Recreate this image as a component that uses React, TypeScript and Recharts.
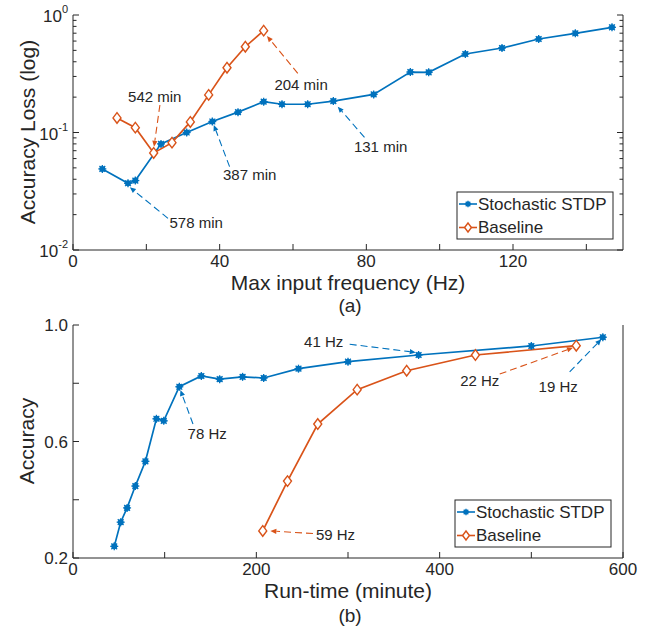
import React from 'react';
import { LineChart, Line, XAxis, YAxis, ReferenceLine, ReferenceDot } from 'recharts';

const FONT = '"Liberation Sans", Arial, Helvetica, sans-serif';
const BLUE = '#0072BD';
const ORANGE = '#D95319';
const AX = '#262626';

// ---- (a) Accuracy loss vs max input frequency ----
const freqStdp = [8, 15, 17, 24, 31, 38, 45, 52, 57, 64, 71, 82, 92, 97, 107, 117, 127, 137, 147];
const lossStdp = [0.049, 0.037, 0.039, 0.080, 0.100, 0.124, 0.149, 0.183, 0.174, 0.174, 0.185, 0.211, 0.327, 0.325, 0.466, 0.524, 0.625, 0.698, 0.786];
const freqBase = [12, 17, 22, 27, 32, 37, 42, 47, 52];
const lossBase = [0.133, 0.110, 0.067, 0.082, 0.123, 0.209, 0.356, 0.537, 0.736];

// ---- (b) Accuracy vs run-time ----
const runStdp = [45, 52, 59, 68, 79, 91, 99, 116, 140, 160, 185, 208, 246, 300, 377, 500, 578];
const accStdp = [0.240, 0.323, 0.372, 0.447, 0.532, 0.678, 0.671, 0.788, 0.825, 0.814, 0.822, 0.818, 0.850, 0.874, 0.897, 0.928, 0.958];
const runBase = [207, 234, 267, 310, 364, 439, 549];
const accBase = [0.293, 0.464, 0.660, 0.778, 0.843, 0.897, 0.929];

// ---- ticks ----
const freqTicks = [0, 20, 40, 60, 80, 100, 120, 140];
const freqLabels = [0, 40, 80, 120];
const lossMajor = [0.01, 0.1, 1];
const lossTicks = [
  0.01, 0.02, 0.03, 0.04, 0.05, 0.06, 0.07, 0.08, 0.09,
  0.1, 0.2, 0.3, 0.4, 0.5, 0.6, 0.7, 0.8, 0.9, 1,
];
const runTicks = [0, 100, 200, 300, 400, 500, 600];
const runLabels = [0, 200, 400, 600];
const accTicks = [0.2, 0.4, 0.6, 0.8, 1.0];
const accLabels = [0.2, 0.6, 1.0];

// ---- annotations: [x, y] in data units ----
const annotA = [
  { text: '578 min', color: BLUE, at: [33.6, 0.0170], from: [25.9, 0.0186], to: [15.5, 0.0342] },
  { text: '542 min', color: ORANGE, at: [22.3, 0.2017], from: [23.7, 0.1714], to: [22.1, 0.0757] },
  { text: '387 min', color: BLUE, at: [48.2, 0.0435], from: [42.7, 0.0512], to: [38.4, 0.116] },
  { text: '204 min', color: ORANGE, at: [62.2, 0.2537], from: [61.3, 0.319], to: [52.9, 0.663] },
  { text: '131 min', color: BLUE, at: [83.9, 0.0757], from: [79.5, 0.091], to: [72.2, 0.166] },
];
const annotB = [
  { text: '78 Hz', color: BLUE, at: [146.4, 0.628], from: [130.9, 0.660], to: [117.2, 0.7765] },
  { text: '59 Hz', color: ORANGE, at: [286.4, 0.280], from: [261.8, 0.284], to: [215.3, 0.293] },
  { text: '41 Hz', color: BLUE, at: [273.5, 0.943], from: [301.8, 0.934], to: [373.9, 0.906] },
  { text: '22 Hz', color: ORANGE, at: [443.7, 0.811], from: [465.5, 0.8315], to: [545.4, 0.922] },
  { text: '19 Hz', color: BLUE, at: [529.3, 0.790], from: [541.8, 0.839], to: [576.4, 0.951] },
];

const zip = (xs: number[], ys: number[]) => xs.map((x, i) => ({ x, y: ys[i] }));

const has = (arr: number[], v: number) => arr.some((a) => Math.abs(a - v) < 1e-9);

const StarDot = (props: any) => {
  const { cx, cy, index, s = 1 } = props;
  if (cx == null || cy == null) return <g key={index} />;
  const r = 4 * s;
  const d = r * 0.72;
  return (
    <g key={`s${index}`}>
      <circle cx={cx} cy={cy} r={3 * s} fill={BLUE} />
      <line x1={cx - r} y1={cy} x2={cx + r} y2={cy} stroke={BLUE} strokeWidth={1.3} />
      <line x1={cx} y1={cy - r} x2={cx} y2={cy + r} stroke={BLUE} strokeWidth={1.3} />
      <line x1={cx - d} y1={cy - d} x2={cx + d} y2={cy + d} stroke={BLUE} strokeWidth={1.3} />
      <line x1={cx - d} y1={cy + d} x2={cx + d} y2={cy - d} stroke={BLUE} strokeWidth={1.3} />
    </g>
  );
};

const DiamondDot = (props: any) => {
  const { cx, cy, index, s = 1 } = props;
  if (cx == null || cy == null) return <g key={index} />;
  const w = 4 * s, h = 5.3 * s;
  return (
    <polygon
      key={`d${index}`}
      points={`${cx},${cy - h} ${cx + w},${cy} ${cx},${cy + h} ${cx - w},${cy}`}
      fill="#fff"
      stroke={ORANGE}
      strokeWidth={1.4}
    />
  );
};

const bottomTick = (labels: number[], fmt: (v: number) => string) => (props: any) => {
  const { x, y, payload } = props;
  const v = payload.value;
  return (
    <g>
      <line x1={x} y1={y} x2={x} y2={y - 6} stroke={AX} strokeWidth={1} />
      {has(labels, v) && (
        <text x={x} y={y + 17} textAnchor="middle" fontSize={17} fill={AX} fontFamily={FONT}>
          {fmt(v)}
        </text>
      )}
    </g>
  );
};
const topTick = (props: any) => {
  const { x, y } = props;
  return <line x1={x} y1={y} x2={x} y2={y + 6} stroke={AX} strokeWidth={1} />;
};
const logLeftTick = (props: any) => {
  const { x, y, payload } = props;
  const v = payload.value;
  const major = has(lossMajor, v);
  const exp = Math.round(Math.log10(v));
  return (
    <g>
      <line x1={x} y1={y} x2={x + (major ? 6 : 3.5)} y2={y} stroke={AX} strokeWidth={1} />
      {major && (
        <text x={x - 5} y={y + 7} textAnchor="end" fontSize={17} fill={AX} fontFamily={FONT}>
          10
          <tspan fontSize={11} dy={-9}>{exp}</tspan>
        </text>
      )}
    </g>
  );
};
const logRightTick = (props: any) => {
  const { x, y, payload } = props;
  const major = has(lossMajor, payload.value);
  return <line x1={x} y1={y} x2={x - (major ? 6 : 3.5)} y2={y} stroke={AX} strokeWidth={1} />;
};
const linLeftTick = (props: any) => {
  const { x, y, payload } = props;
  const v = payload.value;
  return (
    <g>
      <line x1={x} y1={y} x2={x + 6} y2={y} stroke={AX} strokeWidth={1} />
      {has(accLabels, v) && (
        <text x={x - 5} y={y + 6} textAnchor="end" fontSize={17} fill={AX} fontFamily={FONT}>
          {v.toFixed(1)}
        </text>
      )}
    </g>
  );
};
const linRightTick = (props: any) => {
  const { x, y } = props;
  return <line x1={x} y1={y} x2={x - 6} y2={y} stroke={AX} strokeWidth={1} />;
};

const arrowShape = (color: string) => (props: any) => {
  const { x1, y1, x2, y2 } = props;
  if ([x1, y1, x2, y2].some((v) => v == null || isNaN(v))) return <g />;
  const ang = Math.atan2(y2 - y1, x2 - x1);
  const L = 6, W = 2.6;
  const bx = x2 - L * Math.cos(ang), by = y2 - L * Math.sin(ang);
  const px = -Math.sin(ang) * W, py = Math.cos(ang) * W;
  return (
    <g>
      <line x1={x1} y1={y1} x2={bx} y2={by} stroke={color} strokeWidth={1.1} strokeDasharray="7 4" />
      <polygon points={`${x2},${y2} ${bx + px},${by + py} ${bx - px},${by - py}`} fill={color} />
    </g>
  );
};

const labelShape = (text: string) => (props: any) => {
  const { cx, cy } = props;
  return (
    <text x={cx} y={cy} textAnchor="middle" dominantBaseline="central" fontSize={15} fill={AX} fontFamily={FONT}>
      {text}
    </text>
  );
};

const renderAnnots = (list: typeof annotA) =>
  list.flatMap((a, i) => [
    <ReferenceLine
      key={`l${i}`}
      segment={[{ x: a.from[0], y: a.from[1] }, { x: a.to[0], y: a.to[1] }]}
      shape={arrowShape(a.color)}
      ifOverflow="visible"
    />,
    <ReferenceDot key={`t${i}`} x={a.at[0]} y={a.at[1]} r={0} shape={labelShape(a.text)} ifOverflow="visible" />,
  ]);

const Legend = ({ x, y }: { x: number; y: number }) => {
  const rows = [
    { name: 'Stochastic STDP', color: BLUE, star: true },
    { name: 'Baseline', color: ORANGE, star: false },
  ];
  return (
    <g>
      <rect x={x} y={y} width={156} height={47} fill="#fff" stroke={AX} strokeWidth={1} />
      {rows.map((r, i) => {
        const cy = y + 12 + i * 23.5;
        const cx = x + 11;
        return (
          <g key={r.name}>
            <line x1={x + 2} y1={cy} x2={x + 20} y2={cy} stroke={r.color} strokeWidth={1.6} />
            {r.star ? <StarDot cx={cx} cy={cy} index={0} s={0.8} /> : <DiamondDot cx={cx} cy={cy} index={0} s={0.85} />}
            <text x={x + 21} y={cy} dominantBaseline="central" fontSize={17} fill={AX} fontFamily={FONT}>
              {r.name}
            </text>
          </g>
        );
      })}
    </g>
  );
};

export default function App() {
  const a1 = zip(freqStdp, lossStdp);
  const a2 = zip(freqBase, lossBase);
  const b1 = zip(runStdp, accStdp);
  const b2 = zip(runBase, accBase);
  return (
    <div style={{ position: 'absolute', left: 0, top: 0, width: 646, height: 628, background: '#fff', fontFamily: FONT }}>
      <div style={{ position: 'absolute', left: 0, top: 0 }}>
        <LineChart width={646} height={300} margin={{ top: 15, right: 0, left: 0, bottom: 0 }}>
          <XAxis
            dataKey="x"
            type="number"
            domain={[0, 150]}
            ticks={freqTicks}
            interval={0}
            allowDataOverflow
            height={50}
            tickSize={0}
            tickMargin={0}
            tick={bottomTick(freqLabels, (v) => String(v))}
            axisLine={{ stroke: AX }}
          />
          <XAxis
            xAxisId="t"
            orientation="top"
            dataKey="x"
            type="number"
            domain={[0, 150]}
            ticks={freqTicks}
            interval={0}
            height={0}
            tickSize={0}
            tickMargin={0}
            tick={topTick}
            axisLine={{ stroke: AX }}
          />
          <YAxis
            type="number"
            scale="log"
            domain={[0.01, 1]}
            allowDataOverflow
            ticks={lossTicks}
            interval={0}
            width={73}
            tickSize={0}
            tickMargin={0}
            tick={logLeftTick}
            axisLine={{ stroke: AX }}
          />
          <YAxis
            yAxisId="r"
            orientation="right"
            type="number"
            scale="log"
            domain={[0.01, 1]}
            allowDataOverflow
            ticks={lossTicks}
            interval={0}
            width={23}
            tickSize={0}
            tickMargin={0}
            tick={logRightTick}
            axisLine={{ stroke: AX }}
          />
          {renderAnnots(annotA)}
          <Line data={a1} dataKey="y" stroke={BLUE} strokeWidth={1.7} dot={StarDot} isAnimationActive={false} />
          <Line data={a2} dataKey="y" stroke={ORANGE} strokeWidth={1.7} dot={DiamondDot} isAnimationActive={false} />
        </LineChart>
      </div>
      <div style={{ position: 'absolute', left: 0, top: 300 }}>
        <LineChart width={646} height={328} margin={{ top: 25, right: 0, left: 0, bottom: 0 }}>
          <XAxis
            dataKey="x"
            type="number"
            domain={[0, 600]}
            ticks={runTicks}
            interval={0}
            allowDataOverflow
            height={70}
            tickSize={0}
            tickMargin={0}
            tick={bottomTick(runLabels, (v) => String(v))}
            axisLine={{ stroke: AX }}
          />
          <XAxis
            xAxisId="t"
            orientation="top"
            dataKey="x"
            type="number"
            domain={[0, 600]}
            ticks={runTicks}
            interval={0}
            height={0}
            tickSize={0}
            tickMargin={0}
            tick={topTick}
            axisLine={{ stroke: AX }}
          />
          <YAxis
            type="number"
            domain={[0.2, 1.0]}
            allowDataOverflow
            ticks={accTicks}
            interval={0}
            width={73}
            tickSize={0}
            tickMargin={0}
            tick={linLeftTick}
            axisLine={{ stroke: AX }}
          />
          <YAxis
            yAxisId="r"
            orientation="right"
            type="number"
            domain={[0.2, 1.0]}
            ticks={accTicks}
            interval={0}
            width={23}
            tickSize={0}
            tickMargin={0}
            tick={linRightTick}
            axisLine={{ stroke: AX }}
          />
          {renderAnnots(annotB)}
          <Line data={b1} dataKey="y" stroke={BLUE} strokeWidth={1.7} dot={StarDot} isAnimationActive={false} />
          <Line data={b2} dataKey="y" stroke={ORANGE} strokeWidth={1.7} dot={DiamondDot} isAnimationActive={false} />
        </LineChart>
      </div>
      <svg width={646} height={628} style={{ position: 'absolute', left: 0, top: 0, pointerEvents: 'none' }}>
        <text x={348} y={282} textAnchor="middle" dominantBaseline="central" fontSize={21} fill={AX} fontFamily={FONT}>
          Max input frequency (Hz)
        </text>
        <text x={350} y={305} textAnchor="middle" dominantBaseline="central" fontSize={19} fill={AX} fontFamily={FONT}>
          (a)
        </text>
        <text x={348} y={590} textAnchor="middle" dominantBaseline="central" fontSize={21} fill={AX} fontFamily={FONT}>
          Run-time (minute)
        </text>
        <text x={350} y={615} textAnchor="middle" dominantBaseline="central" fontSize={19} fill={AX} fontFamily={FONT}>
          (b)
        </text>
        <text x={27} y={132} transform="rotate(-90 27 132)" textAnchor="middle" dominantBaseline="central" fontSize={21} fill={AX} fontFamily={FONT}>
          Accuracy Loss (log)
        </text>
        <text x={26} y={441} transform="rotate(-90 26 441)" textAnchor="middle" dominantBaseline="central" fontSize={21} fill={AX} fontFamily={FONT}>
          Accuracy
        </text>
        <Legend x={457} y={192} />
        <Legend x={455} y={500} />
      </svg>
    </div>
  );
}
